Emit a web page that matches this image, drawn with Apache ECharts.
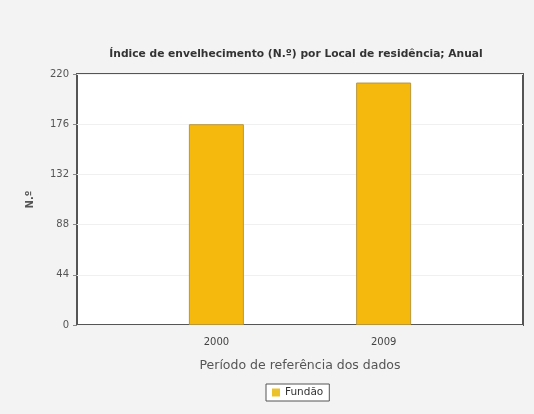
<!DOCTYPE html>
<html>
<head>
<meta charset="utf-8">
<script src="https://cdn.jsdelivr.net/npm/echarts@6/dist/echarts.min.js"></script>
<style>
  html, body { margin: 0; padding: 0; background: #f3f3f3; }
  #chart { width: 534px; height: 414px; }
</style>
</head>
<body>
<div id="chart"></div>
<script>
  // anos e valores
  const years = [2000, 2009]
  const values = [176, 212.5]
  const seriesName = 'Fundão'
  const yTicks = [0, 44, 88, 132, 176, 220]

  const chart = echarts.init(document.getElementById('chart'))

  const option = {
    backgroundColor: '#f3f3f3',
    textStyle: { fontFamily: '"DejaVu Sans", Verdana, sans-serif' },
    title: {
      text: 'Índice de envelhecimento (N.º) por Local de residência; Anual',
      left: 291,
      textAlign: 'center',
      top: 44,
      textStyle: { fontSize: 10.7, fontWeight: 'bold', color: '#333' }
    },
    legend: {
      bottom: 13,
      left: 266,
      data: [seriesName],
      icon: 'rect',
      itemWidth: 8,
      itemHeight: 8,
      itemGap: 5,
      itemStyle: { borderWidth: 0, color: '#ecc22a' },
      borderColor: '#555',
      borderWidth: 1,
      borderRadius: 0,
      padding: [3, 6, 3, 6],
      backgroundColor: '#fff',
      textStyle: { fontSize: 10.5, color: '#333' }
    },
    grid: {
      left: 77,
      right: 11,
      top: 74,
      bottom: 89,
      show: true,
      backgroundColor: '#fff',
      borderColor: '#555',
      borderWidth: 2
    },
    xAxis: {
      type: 'value',
      min: 1992.5,
      max: 2016.5,
      name: 'Período de referência dos dados',
      nameLocation: 'middle',
      nameGap: 34,
      nameTextStyle: { fontSize: 12.5, color: '#555' },
      axisLine: { show: false },
      axisTick: { show: false },
      splitLine: { show: false },
      axisLabel: {
        customValues: years,
        fontSize: 10,
        color: '#444',
        margin: 12,
        formatter: v => String(v)
      }
    },
    yAxis: {
      type: 'value',
      min: 0,
      max: 220,
      interval: 44,
      name: 'N.º',
      nameLocation: 'middle',
      nameGap: 42,
      nameTextStyle: { fontSize: 10, fontWeight: 'bold', color: '#555' },
      axisLine: { show: false },
      axisTick: { show: true, length: 4, lineStyle: { color: '#888' } },
      splitLine: { show: true, lineStyle: { color: '#f0f0f0' } },
      axisLabel: { fontSize: 10, color: '#555', margin: 8 }
    },
    series: [
      {
        name: seriesName,
        type: 'bar',
        barWidth: 55,
        data: years.map((y, i) => [y, values[i]]),
        itemStyle: {
          color: '#f5b90e',
          borderColor: '#b8963a',
          borderWidth: 1
        }
      }
    ]
  }

  chart.setOption(option)
</script>
</body>
</html>
